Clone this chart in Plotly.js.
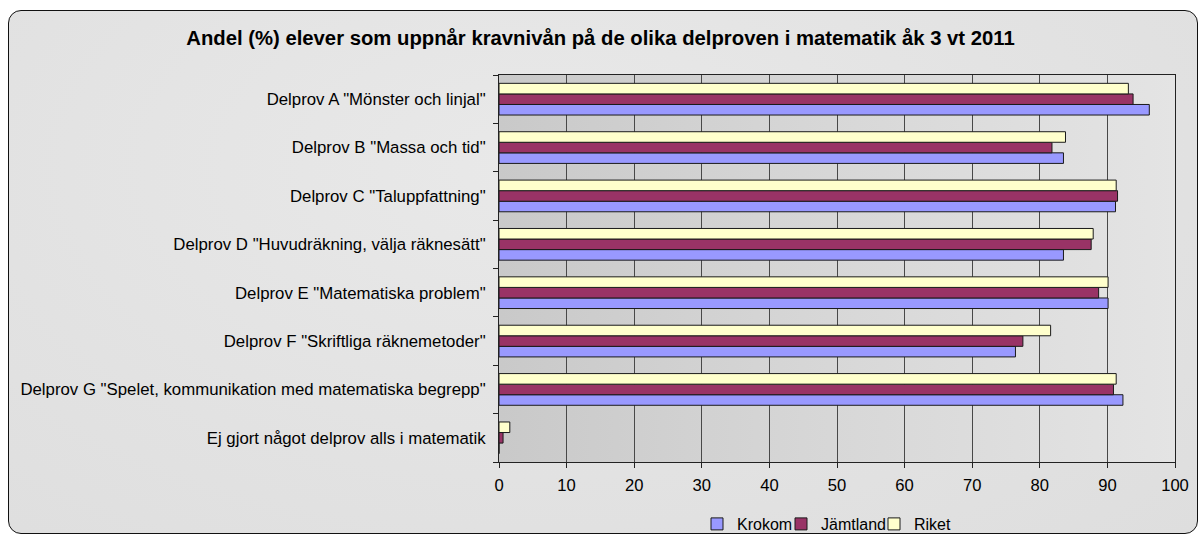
<!DOCTYPE html>
<html>
<head>
<meta charset="utf-8">
<script src="https://cdn.plot.ly/plotly-3.0.1.min.js"></script>
<style>
  html, body { margin: 0; padding: 0; background: #ffffff; width: 1201px; height: 538px; overflow: hidden; }
  #frame { position: absolute; left: 8px; top: 10px; width: 1188px; height: 522px;
           border: 1.5px solid #111; border-radius: 13px;
           background: radial-gradient(ellipse at 45% 30%, #e9e9e9 0%, #e2e2e2 60%, #dedede 100%); }
  #plotbg { position: absolute; left: 499px; top: 75px; width: 676px; height: 387px;
            background: linear-gradient(to right, #c9c9c9 0%, #d6d6d6 45%, #e4e4e4 100%); }
  #chart { position: absolute; left: 0; top: 0; width: 1201px; height: 538px; }
</style>
</head>
<body>
<div id="frame"></div>
<div id="plotbg"></div>
<div id="chart"></div>
<script>
const categories = [
  'Delprov A "Mönster och linjal"',
  'Delprov B "Massa och tid"',
  'Delprov C "Taluppfattning"',
  'Delprov D "Huvudräkning, välja räknesätt"',
  'Delprov E "Matematiska problem"',
  'Delprov F "Skriftliga räknemetoder"',
  'Delprov G "Spelet, kommunikation med matematiska begrepp"',
  'Ej gjort något delprov alls i matematik'
];
const seriesNames = ['Krokom', 'Jämtland', 'Riket'];
const krokom   = [96.2, 83.5, 91.2, 83.5, 90.1, 76.4, 92.3, 0];
const jamtland = [93.8, 81.8, 91.5, 87.6, 88.7, 77.5, 90.9, 0.6];
const riket    = [93.1, 83.8, 91.3, 87.9, 90.1, 81.6, 91.3, 1.6];
const xTicks = [0, 10, 20, 30, 40, 50, 60, 70, 80, 90, 100];
const titleText = 'Andel (%) elever som uppnår kravnivån på de olika delproven i matematik åk 3 vt 2011';

const colors = ['#9999FF', '#993366', '#FFFFCC'];
const values = [krokom, jamtland, riket];
const legendIds = ['legend', 'legend2', 'legend3'];
// left pixel of each legend entry (container coordinates)
const legendLeft = [697, 781, 874];

const traces = values.map((v, i) => ({
  type: 'bar',
  orientation: 'h',
  name: seriesNames[i],
  x: v,
  y: categories,
  legend: legendIds[i],
  marker: { color: colors[i], line: { color: '#1a1a1a', width: 1 } },
  hoverinfo: 'x+name'
}));

const font = 'Liberation Sans, Arial, sans-serif';

const layout = {
  width: 1201,
  height: 538,
  paper_bgcolor: 'rgba(0,0,0,0)',
  plot_bgcolor: 'rgba(0,0,0,0)',
  margin: { l: 499, r: 26, t: 75, b: 76, pad: 0, autoexpand: false },
  barmode: 'group',
  bargap: 0.345,
  bargroupgap: 0,
  showlegend: true,
  title: {
    text: '<b>' + titleText + '</b>',
    font: { family: font, size: 20.3, color: '#000' },
    x: 0.5, xref: 'container', xanchor: 'center',
    y: 1 - 38 / 538, yref: 'container', yanchor: 'middle'
  },
  xaxis: {
    range: [0, 100],
    tickvals: xTicks,
    ticktext: xTicks.map(String),
    showgrid: true,
    gridcolor: '#484848',
    gridwidth: 1,
    zeroline: false,
    showline: true,
    linecolor: '#222',
    linewidth: 1,
    mirror: true,
    ticks: 'outside',
    ticklen: 5,
    tickcolor: '#222',
    ticklabelstandoff: 3,
    tickfont: { family: font, size: 16.6, color: '#000' },
    fixedrange: true
  },
  yaxis: {
    type: 'category',
    categoryorder: 'array',
    categoryarray: categories.slice().reverse(),
    showgrid: false,
    zeroline: false,
    showline: true,
    linecolor: '#222',
    linewidth: 1,
    mirror: true,
    ticks: 'outside',
    tickson: 'boundaries',
    ticklen: 5,
    tickcolor: '#222',
    ticklabelstandoff: 9,
    tickfont: { family: font, size: 16.8, color: '#000' },
    fixedrange: true
  }
};

legendIds.forEach((id, i) => {
  layout[id] = {
    orientation: 'h',
    xref: 'container', yref: 'container',
    x: legendLeft[i] / 1201, xanchor: 'left',
    y: (538 - 524) / 538, yanchor: 'middle',
    bgcolor: 'rgba(0,0,0,0)',
    borderwidth: 0,
    font: { family: font, size: 16, color: '#000' },
    itemwidth: 30
  };
});

Plotly.newPlot('chart', traces, layout, { displayModeBar: false, staticPlot: true });
</script>
</body>
</html>
